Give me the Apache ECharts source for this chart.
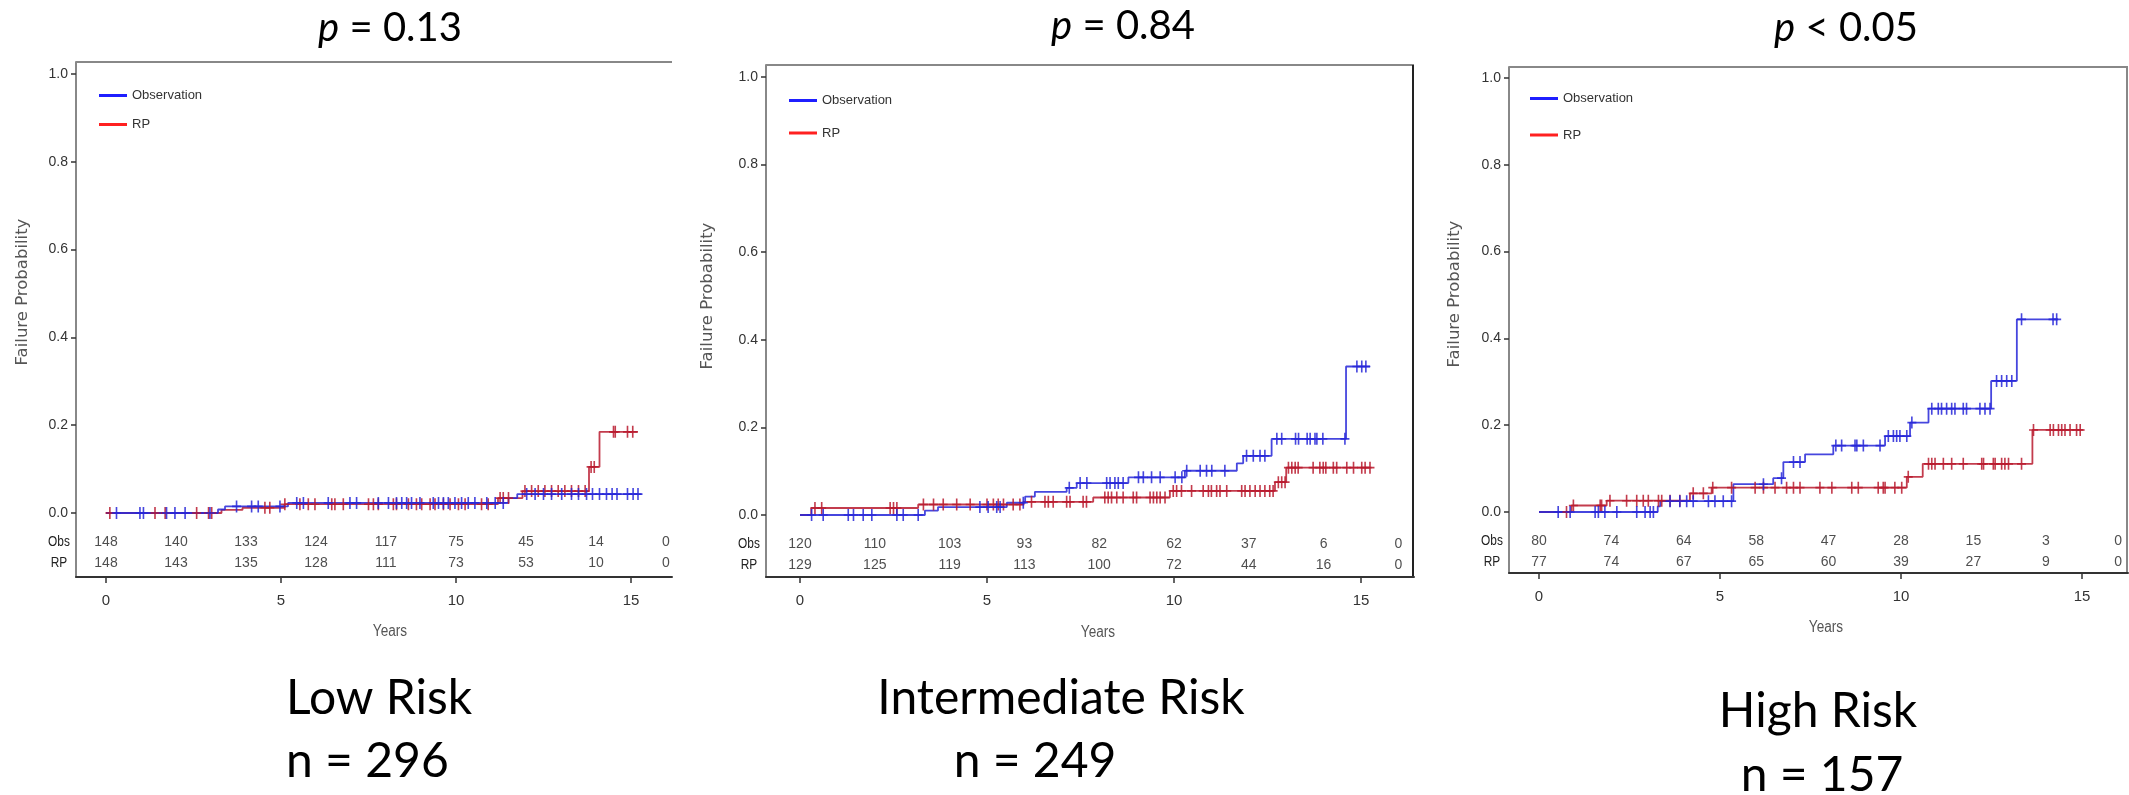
<!DOCTYPE html>
<html><head><meta charset="utf-8">
<script src="https://cdn.jsdelivr.net/npm/echarts@6/dist/echarts.min.js"></script>
<style>html,body{margin:0;padding:0;background:#fff}#c{width:2129px;height:795px}</style>
</head><body><div id="c"></div>
<script>
// ---------------- DATA ----------------
const yTickValues = [0, 0.2, 0.4, 0.6, 0.8, 1.0];
const xTickValues = [0, 5, 10, 15];
const riskYears = [0, 2, 4, 6, 8, 10, 12, 14, 16];
const pValueTexts = ['= 0.13', '= 0.84', '< 0.05'];
const groupNames = ['Low Risk', 'Intermediate Risk', 'High Risk'];
const groupSizes = ['n = 296', 'n = 249', 'n = 157'];
const seriesNames = ['Observation', 'RP'];
const rowLabels = ['Obs', 'RP'];

// Low risk
const lowObsT = [0, 3.2, 3.4, 5.2, 11.5, 11.75, 15.3];
const lowObsV = [0, 0.008, 0.015, 0.023, 0.034, 0.043, 0.043];
const lowRpT = [0, 3.3, 3.9, 5.1, 11.2, 11.9, 13.8, 14.1, 15.2];
const lowRpV = [0, 0.007, 0.012, 0.02, 0.034, 0.05, 0.105, 0.185, 0.185];
const lowObsCens = [0.3, 0.97, 1.07, 1.73, 1.97, 2.26, 2.97, 3.73, 4.16, 4.35, 4.97, 5.45, 5.64, 6.35, 6.97, 7.16, 7.78, 8.07, 8.3, 8.45, 8.59, 8.73, 8.97, 9.35, 9.5, 9.64, 9.78, 9.97, 10.16, 10.35, 10.54, 10.88, 11.12, 11.35, 12.02, 12.26, 12.5, 12.73, 13.02, 13.3, 13.5, 13.73, 13.9, 14.1, 14.3, 14.46, 14.6, 14.9, 15.06, 15.2];
const lowRpCens = [0.11, 1.4, 1.69, 2.59, 2.93, 3.02, 4.54, 4.68, 5.11, 5.54, 5.78, 5.97, 6.45, 6.54, 6.78, 7.5, 7.64, 7.78, 8.21, 8.3, 8.64, 8.87, 9.02, 9.26, 9.4, 9.64, 9.83, 10.07, 10.26, 10.73, 10.92, 11.26, 11.35, 11.5, 11.97, 12.16, 12.35, 12.54, 12.73, 12.92, 13.11, 13.3, 13.5, 13.69, 13.86, 13.95, 14.5, 14.55, 14.9, 15.05];
const lowObsRisk = [148, 140, 133, 124, 117, 75, 45, 14, 0];
const lowRpRisk = [148, 143, 135, 128, 111, 73, 53, 10, 0];

// Intermediate risk
const midObsT = [0, 3.34, 3.69, 5.53, 6.02, 6.28, 7.13, 7.4, 8.78, 10.29, 11.68, 11.85, 12.61, 14.6, 15.24];
const midObsV = [0, 0.01, 0.018, 0.028, 0.042, 0.053, 0.062, 0.073, 0.086, 0.101, 0.118, 0.135, 0.174, 0.339, 0.339];
const midRpT = [0, 0.3, 3.16, 5.97, 7.84, 9.89, 12.7, 13.0, 15.28];
const midRpV = [0, 0.016, 0.024, 0.03, 0.04, 0.055, 0.075, 0.108, 0.108];
const midObsCens = [0.31, 0.62, 1.29, 1.43, 1.69, 1.92, 2.59, 2.76, 3.16, 4.81, 5.03, 5.26, 5.35, 5.97, 7.2, 7.49, 7.67, 8.2, 8.29, 8.42, 8.51, 8.64, 9.05, 9.18, 9.4, 9.63, 10.03, 10.21, 10.34, 10.7, 10.87, 11.01, 11.36, 11.94, 12.12, 12.3, 12.43, 12.75, 12.88, 13.25, 13.33, 13.56, 13.64, 13.77, 13.82, 13.98, 14.57, 14.89, 15.02, 15.13];
const midRpCens = [0.4, 0.58, 2.41, 2.5, 2.59, 3.3, 3.57, 3.83, 4.19, 4.55, 5.0, 5.17, 5.3, 5.44, 5.7, 5.88, 6.19, 6.55, 6.64, 6.77, 7.13, 7.22, 7.57, 7.66, 8.15, 8.24, 8.33, 8.47, 8.64, 8.91, 9.0, 9.36, 9.45, 9.54, 9.63, 9.76, 9.98, 10.07, 10.2, 10.47, 10.78, 10.92, 11.0, 11.14, 11.23, 11.41, 11.81, 11.9, 12.03, 12.17, 12.3, 12.43, 12.56, 12.65, 12.79, 12.88, 12.97, 13.06, 13.15, 13.24, 13.32, 13.72, 13.9, 13.99, 14.06, 14.26, 14.35, 14.62, 14.8, 15.02, 15.11, 15.24];
const midObsRisk = [120, 110, 103, 93, 82, 62, 37, 6, 0];
const midRpRisk = [129, 125, 119, 113, 100, 72, 44, 16, 0];

// High risk
const highObsT = [0, 3.28, 3.35, 5.37, 6.47, 6.75, 7.35, 8.13, 9.56, 10.25, 10.76, 12.49, 13.2, 14.34];
const highObsV = [0, 0.013, 0.025, 0.064, 0.078, 0.115, 0.133, 0.153, 0.175, 0.206, 0.238, 0.302, 0.444, 0.444];
const highRpT = [0, 0.9, 1.87, 4.17, 4.77, 10.16, 10.6, 13.63, 15.04];
const highRpV = [0, 0.015, 0.026, 0.043, 0.056, 0.081, 0.111, 0.189, 0.189];
const highObsCens = [0.53, 0.86, 1.55, 1.64, 1.82, 2.15, 2.7, 2.93, 3.07, 3.16, 3.62, 3.89, 4.08, 4.26, 4.68, 4.86, 5.09, 5.32, 6.2, 6.7, 7.03, 7.21, 8.2, 8.36, 8.73, 8.78, 8.96, 9.42, 9.65, 9.79, 9.88, 9.97, 10.16, 10.3, 10.85, 11.03, 11.12, 11.26, 11.4, 11.49, 11.72, 11.81, 12.18, 12.32, 12.46, 12.64, 12.78, 12.92, 13.06, 13.33, 14.2, 14.3];
const highRpCens = [0.76, 0.95, 1.69, 1.73, 1.96, 2.42, 2.7, 2.88, 3.02, 3.3, 3.39, 3.62, 3.89, 4.26, 4.54, 4.8, 5.32, 5.97, 6.2, 6.52, 6.84, 7.03, 7.21, 7.76, 8.09, 8.64, 8.82, 9.37, 9.51, 9.56, 9.83, 10.02, 10.2, 10.76, 10.85, 10.94, 11.17, 11.4, 11.72, 12.23, 12.28, 12.55, 12.6, 12.78, 12.87, 12.97, 13.33, 13.66, 14.12, 14.21, 14.35, 14.44, 14.53, 14.67, 14.85, 14.95];
const highObsRisk = [80, 74, 64, 58, 47, 28, 15, 3, 0];
const highRpRisk = [77, 74, 67, 65, 60, 39, 27, 9, 0];

// ---------------- LAYOUT / STYLE ----------------
const SMALL = "'Liberation Sans', Arial, sans-serif";
const BIG = "Lato, 'Open Sans', sans-serif";
const BLUE = '#2626d8', RED = '#b81a2e';

const panels = [
  {left:76, right:672, top:62, bottom:577, x0:106, pxYr:35, y0:513, y1:74, rightFrame:null,
   pt:[390,28.5], grp:{x:286,y:698.5,a:'left'}, n:{x:286,y:761.5,a:'left'}, years:[390,632], fp:[23,292],
   lg:{left:99, top:89, gap:16},
   obsT:lowObsT, obsV:lowObsV, rpT:lowRpT, rpV:lowRpV, obsC:lowObsCens, rpC:lowRpCens, obsR:lowObsRisk, rpR:lowRpRisk},
  {left:766, right:1414, top:65, bottom:577, x0:800, pxYr:37.4, y0:515, y1:77, rightFrame:'#222',
   pt:[1123,26.5], grp:{x:1061,y:698.5,a:'center'}, n:{x:1035,y:761.5,a:'center'}, years:[1098,633], fp:[708,296],
   lg:{left:789, top:94, gap:19.5},
   obsT:midObsT, obsV:midObsV, rpT:midRpT, rpV:midRpV, obsC:midObsCens, rpC:midRpCens, obsR:midObsRisk, rpR:midRpRisk},
  {left:1509, right:2128, top:67, bottom:573, x0:1539, pxYr:36.2, y0:512, y1:78, rightFrame:'#888',
   pt:[1846,28.5], grp:{x:1818,y:711.5,a:'center'}, n:{x:1822,y:776,a:'center'}, years:[1826,628], fp:[1455,294],
   lg:{left:1530, top:92, gap:23.5},
   obsT:highObsT, obsV:highObsV, rpT:highRpT, rpV:highRpV, obsC:highObsCens, rpC:highRpCens, obsR:highObsRisk, rpR:highRpRisk}
];
const ROW_OBS = -0.067, ROW_RP = -0.115;

function levelAt(T, V, t) {
  let v = V[0];
  for (let i = 0; i < T.length; i++) { if (T[i] <= t) v = V[i]; }
  return v;
}
const PLUS = 'path://M4.1,0H5.9V4.3H10V5.7H5.9V10H4.1V5.7H0V4.3H4.1Z';

const grid = [], xAxis = [], yAxis = [], series = [], legend = [], elements = [];
panels.forEach((p, i) => {
  grid.push({left:p.left, top:p.top, width:p.right - p.left, height:p.bottom - p.top});
  const unit = p.y0 - p.y1;
  xAxis.push({
    gridIndex:i, type:'value', position:'bottom', min:(p.left - p.x0)/p.pxYr, max:(p.right - p.x0)/p.pxYr,
    splitLine:{show:false},
    axisLine:{show:true, onZero:false, lineStyle:{color:'#333', width:2}},
    axisTick:{show:true, customValues:xTickValues, length:6, lineStyle:{color:'#333', width:1.5}},
    axisLabel:{customValues:xTickValues, margin:16, fontFamily:SMALL, fontSize:15, color:'#333'}
  });
  yAxis.push({
    gridIndex:i, type:'value', position:'left', min:(p.y0 - p.bottom)/unit, max:(p.y0 - p.top)/unit,
    splitLine:{show:false},
    axisLine:{show:true, onZero:false, lineStyle:{color:'#888', width:2}},
    axisTick:{show:true, customValues:yTickValues, length:5, lineStyle:{color:'#333', width:1.5}},
    axisLabel:{customValues:yTickValues, margin:8, fontFamily:SMALL, fontSize:14, color:'#333',
               formatter:v => v.toFixed(1)}
  });
  const mkLine = (name, T, V, color) => ({
    name, type:'line', xAxisIndex:i, yAxisIndex:i, step:'end', showSymbol:false, silent:true,
    data:T.map((t, k) => [t, V[k]]), lineStyle:{color, width:1.8, opacity:0.85}, itemStyle:{color}, z:3
  });
  const mkCens = (name, C, T, V, color) => ({
    name, type:'scatter', xAxisIndex:i, yAxisIndex:i, symbol:PLUS, symbolSize:[9,12], silent:true,
    data:C.map(t => [t, levelAt(T, V, t)]), itemStyle:{color, opacity:0.85}, z:4
  });
  const mkRisk = (R, row) => ({
    type:'scatter', xAxisIndex:i, yAxisIndex:i, symbolSize:0, silent:true, clip:false,
    data:riskYears.map((t, k) => [t, row, R[k]]),
    label:{show:true, position:'inside', formatter:q => String(q.value[2]), fontFamily:SMALL, fontSize:14, color:'#222'}
  });
  series.push(mkLine(seriesNames[1], p.rpT, p.rpV, RED));
  series.push(mkLine(seriesNames[0], p.obsT, p.obsV, BLUE));
  series.push(mkCens('RP censored', p.rpC, p.rpT, p.rpV, RED));
  series.push(mkCens('Observation censored', p.obsC, p.obsT, p.obsV, BLUE));
  series.push(mkRisk(p.obsR, ROW_OBS));
  series.push(mkRisk(p.rpR, ROW_RP));

  legend.push({
    orient:'vertical', left:p.lg.left, top:p.lg.top, itemGap:p.lg.gap, itemWidth:28, itemHeight:3,
    icon:'rect', padding:0, selectedMode:false,
    data:[{name:seriesNames[0], itemStyle:{color:'#1f1fff'}}, {name:seriesNames[1], itemStyle:{color:'#ff2020'}}],
    textStyle:{fontFamily:SMALL, fontSize:13, color:'#333'}
  });

  // frame lines
  elements.push({type:'line', shape:{x1:p.left, y1:p.top, x2:p.right, y2:p.top}, style:{stroke:'#888', lineWidth:2}, silent:true});
  if (p.rightFrame) elements.push({type:'line', shape:{x1:p.right - 1, y1:p.top, x2:p.right - 1, y2:p.bottom}, style:{stroke:p.rightFrame, lineWidth:2}, silent:true});
  // row labels
  const rowY = [p.y0 - ROW_OBS * unit, p.y0 - ROW_RP * unit];
  rowLabels.forEach((lab, k) => elements.push({type:'text', x:p.left - 17, y:rowY[k], silent:true, scaleX:0.85,
    style:{text:lab, fill:'#222', font:'14px ' + SMALL, textAlign:'center', textVerticalAlign:'middle'}}));
  // axis titles
  elements.push({type:'text', x:p.years[0], y:p.years[1], silent:true, scaleX:0.85,
    style:{text:'Years', fill:'#555', font:'16px ' + SMALL, textAlign:'center', textVerticalAlign:'middle'}});
  elements.push({type:'text', x:p.fp[0], y:p.fp[1], rotation:Math.PI/2, silent:true,
    style:{text:'Failure Probability', fill:'#555', font:'16.5px "DejaVu Sans"', textAlign:'center', textVerticalAlign:'middle'}});
  // p-value
  elements.push({type:'text', x:p.pt[0], y:p.pt[1], silent:true,
    style:{text:'{i|p} ' + pValueTexts[i], fill:'#000', fontSize:40, fontFamily:BIG, textAlign:'center', textVerticalAlign:'middle',
           rich:{i:{fontStyle:'italic', fontSize:40, fontFamily:BIG, fill:'#000'}}}});
  // group labels
  elements.push({type:'text', x:p.grp.x, y:p.grp.y, silent:true,
    style:{text:groupNames[i], fill:'#000', font:'48px ' + BIG, textAlign:p.grp.a, textVerticalAlign:'middle'}});
  elements.push({type:'text', x:p.n.x, y:p.n.y, silent:true,
    style:{text:groupSizes[i], fill:'#000', font:'48px ' + BIG, textAlign:p.n.a, textVerticalAlign:'middle'}});
});

const chart = echarts.init(document.getElementById('c'), null, {renderer:'canvas'});
chart.setOption({
  animation:false, backgroundColor:'#fff',
  grid, xAxis, yAxis, series, legend,
  graphic:{elements}
});
</script></body></html>
